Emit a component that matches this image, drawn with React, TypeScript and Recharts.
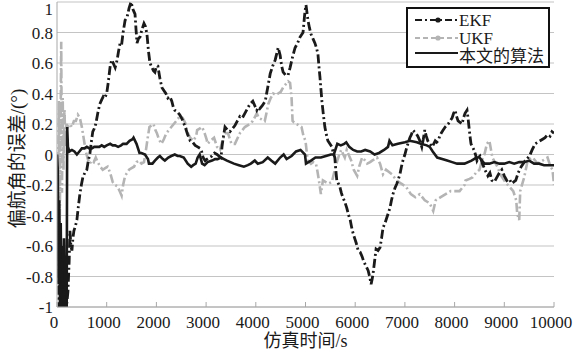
import React from 'react';
import { LineChart, Line, XAxis, YAxis, CartesianGrid, Legend } from 'recharts';

// Yaw-angle error (degrees) versus simulation time (s) for three filters.
const timeTicks = [0, 1000, 2000, 3000, 4000, 5000, 6000, 7000, 8000, 9000, 10000];
const errorTicks = [-1, -0.8, -0.6, -0.4, -0.2, 0, 0.2, 0.4, 0.6, 0.8, 1];

const seriesNames = ['EKF', 'UKF', '本文的算法'];

const ekfSamples: [number, number][] = [
  [0, -0.08], [20, -0.35], [40, -1], [60, -0.6], [80, -1], [100, -0.7], [130, -1], [160, -0.85],
  [190, -1], [220, -0.9], [245, -0.7], [260, -0.5], [280, -0.6], [300, -0.63], [320, -0.55],
  [340, -0.5], [370, -0.47], [400, -0.43], [430, -0.34], [460, -0.26], [490, -0.2], [520, -0.15],
  [560, -0.12], [600, -0.1], [630, -0.04], [660, 0], [690, 0.08], [720, 0.15], [750, 0.17],
  [780, 0.2], [820, 0.27], [860, 0.33], [900, 0.36], [930, 0.38], [960, 0.37], [1000, 0.4],
  [1030, 0.47], [1070, 0.58], [1100, 0.62], [1130, 0.6], [1170, 0.57], [1210, 0.62], [1240, 0.68],
  [1270, 0.73], [1300, 0.72], [1330, 0.8], [1370, 0.88], [1410, 0.9], [1450, 0.96], [1490, 1],
  [1530, 0.95], [1570, 0.92], [1590, 0.82], [1610, 0.73], [1640, 0.76], [1670, 0.77], [1710, 0.82],
  [1750, 0.86], [1780, 0.84], [1810, 0.79], [1840, 0.68], [1870, 0.6], [1910, 0.57], [1940, 0.55],
  [1970, 0.54], [2000, 0.58], [2030, 0.58], [2070, 0.5], [2110, 0.44], [2150, 0.42], [2190, 0.4],
  [2230, 0.37], [2270, 0.38], [2310, 0.35], [2340, 0.31], [2370, 0.29], [2420, 0.28], [2470, 0.26],
  [2520, 0.23], [2580, 0.18], [2630, 0.13], [2680, 0.09], [2730, 0.08], [2780, 0.06], [2830, 0.05],
  [2880, 0.04], [2910, 0.02], [2940, -0.02], [2980, -0.04], [3020, -0.03], [3070, -0.02],
  [3120, -0.01], [3170, 0.01], [3220, 0], [3260, -0.01], [3300, -0.02], [3320, 0.05], [3340, 0.1],
  [3380, 0.18], [3430, 0.16], [3480, 0.15], [3530, 0.17], [3580, 0.19], [3630, 0.22], [3680, 0.25],
  [3730, 0.24], [3780, 0.27], [3830, 0.3], [3880, 0.33], [3910, 0.34], [3940, 0.35], [3980, 0.32],
  [4020, 0.29], [4050, 0.31], [4080, 0.3], [4130, 0.32], [4190, 0.35], [4240, 0.44], [4290, 0.53],
  [4340, 0.58], [4390, 0.62], [4420, 0.66], [4450, 0.7], [4490, 0.65], [4520, 0.58], [4550, 0.54],
  [4600, 0.52], [4650, 0.52], [4690, 0.57], [4740, 0.64], [4790, 0.7], [4840, 0.73], [4890, 0.77],
  [4950, 0.8], [4990, 0.94], [5010, 0.98], [5050, 0.88], [5080, 0.83], [5110, 0.79], [5150, 0.76],
  [5190, 0.73], [5220, 0.7], [5250, 0.66], [5270, 0.58], [5290, 0.51], [5310, 0.43], [5330, 0.35],
  [5360, 0.26], [5390, 0.18], [5420, 0.13], [5450, 0.09], [5490, 0.07], [5530, 0.05], [5560, 0.01],
  [5590, -0.02], [5610, -0.1], [5630, -0.17], [5660, -0.19], [5690, -0.21], [5720, -0.25],
  [5750, -0.28], [5790, -0.31], [5830, -0.35], [5870, -0.4], [5900, -0.43], [5930, -0.48],
  [5960, -0.52], [5990, -0.55], [6020, -0.58], [6060, -0.63], [6100, -0.64], [6140, -0.67],
  [6170, -0.7], [6200, -0.72], [6230, -0.74], [6260, -0.76], [6290, -0.8], [6320, -0.85],
  [6340, -0.82], [6360, -0.78], [6390, -0.7], [6420, -0.62], [6460, -0.63], [6500, -0.61],
  [6530, -0.55], [6560, -0.48], [6600, -0.45], [6640, -0.41], [6670, -0.38], [6700, -0.35],
  [6730, -0.3], [6760, -0.26], [6800, -0.22], [6840, -0.19], [6870, -0.16], [6900, -0.13],
  [6930, -0.08], [6960, -0.04], [7000, 0], [7040, 0.05], [7070, 0.08], [7100, 0.11], [7130, 0.13],
  [7160, 0.16], [7190, 0.15], [7220, 0.14], [7260, 0.12], [7300, 0.09], [7340, 0.05], [7370, 0.1],
  [7400, 0.16], [7430, 0.12], [7460, 0.09], [7500, 0.07], [7550, 0.05], [7580, 0.07], [7610, 0.09],
  [7640, 0.08], [7670, 0.09], [7700, 0.12], [7730, 0.14], [7770, 0.16], [7810, 0.18], [7840, 0.19],
  [7870, 0.2], [7910, 0.22], [7950, 0.24], [7980, 0.27], [8010, 0.29], [8040, 0.25], [8070, 0.22],
  [8110, 0.21], [8150, 0.2], [8180, 0.24], [8210, 0.27], [8250, 0.29], [8270, 0.24], [8290, 0.18],
  [8310, 0.12], [8330, 0.07], [8360, 0.05], [8390, 0.03], [8420, 0], [8450, -0.04], [8480, -0.02],
  [8510, -0.01], [8560, -0.06], [8610, -0.1], [8670, -0.14], [8710, -0.12], [8750, -0.17],
  [8800, -0.18], [8850, -0.15], [8900, -0.12], [8950, -0.1], [9000, -0.14], [9050, -0.17],
  [9100, -0.16], [9150, -0.19], [9190, -0.18], [9230, -0.17], [9280, -0.12], [9310, -0.1],
  [9340, -0.08], [9380, -0.06], [9420, -0.04], [9450, -0.03], [9480, -0.02], [9520, 0],
  [9560, 0.03], [9590, 0.05], [9620, 0.07], [9670, 0.08], [9720, 0.09], [9770, 0.1], [9820, 0.11],
  [9870, 0.13], [9920, 0.12], [9960, 0.15], [10000, 0.14],
];

const ukfSamples: [number, number][] = [
  [0, 0], [20, -0.3], [40, 0.35], [55, -0.45], [70, 0.1], [85, 0.74], [100, -0.25], [115, 0.37],
  [130, -0.1], [150, 0.3], [170, 0.05], [190, 0.2], [220, 0.18], [260, 0.2], [300, 0.18],
  [340, 0.22], [380, 0.22], [420, 0.26], [460, 0.24], [500, 0.18], [540, 0.1], [580, 0.02],
  [620, -0.03], [660, -0.06], [700, -0.04], [740, -0.05], [780, -0.02], [820, -0.05], [870, -0.08],
  [920, -0.1], [970, -0.09], [1020, -0.08], [1070, -0.12], [1120, -0.18], [1170, -0.2],
  [1220, -0.21], [1260, -0.24], [1300, -0.27], [1330, -0.2], [1370, -0.14], [1410, -0.12],
  [1450, -0.1], [1500, -0.09], [1550, -0.08], [1600, -0.05], [1650, -0.04], [1700, -0.06],
  [1750, -0.05], [1790, 0.03], [1830, 0.12], [1860, 0.18], [1900, 0.19], [1940, 0.2], [1980, 0.16],
  [2010, 0.14], [2050, 0.1], [2100, 0.07], [2150, 0.1], [2200, 0.14], [2250, 0.16], [2300, 0.18],
  [2350, 0.2], [2400, 0.22], [2470, 0.25], [2530, 0.24], [2590, 0.2], [2620, 0.15], [2680, 0.11],
  [2740, 0.09], [2800, 0.12], [2820, 0.16], [2870, 0.17], [2920, 0.18], [2970, 0.14], [3010, 0.1],
  [3030, 0.07], [3090, 0.09], [3160, 0.11], [3220, 0.05], [3280, 0.03], [3320, 0.08], [3380, 0.14],
  [3440, 0.14], [3510, 0.07], [3580, 0.07], [3680, 0.14], [3780, 0.18], [3880, 0.2], [3940, 0.22],
  [4020, 0.27], [4060, 0.24], [4120, 0.23], [4180, 0.22], [4220, 0.28], [4250, 0.33], [4300, 0.37],
  [4350, 0.4], [4400, 0.39], [4450, 0.4], [4500, 0.41], [4550, 0.44], [4600, 0.46], [4650, 0.48],
  [4690, 0.47], [4720, 0.37], [4740, 0.22], [4770, 0.21], [4820, 0.2], [4870, 0.19], [4920, 0.18],
  [4960, 0.12], [5000, 0.09], [5030, 0], [5050, -0.04], [5110, -0.06], [5150, -0.05], [5210, -0.06],
  [5240, -0.11], [5270, -0.17], [5310, -0.26], [5350, -0.17], [5400, -0.18], [5470, -0.19],
  [5530, -0.18], [5590, -0.1], [5640, -0.04], [5680, 0], [5720, 0.03], [5760, 0], [5790, -0.02],
  [5830, 0.03], [5880, -0.01], [5920, -0.04], [5970, -0.1], [6040, -0.14], [6080, -0.08],
  [6140, -0.02], [6200, -0.04], [6240, -0.06], [6300, -0.05], [6340, -0.04], [6400, -0.03],
  [6440, -0.02], [6500, -0.06], [6560, -0.13], [6620, -0.1], [6700, -0.12], [6740, -0.13],
  [6810, -0.16], [6840, -0.17], [6920, -0.19], [7020, -0.21], [7120, -0.26], [7210, -0.28],
  [7300, -0.26], [7400, -0.3], [7500, -0.32], [7570, -0.37], [7620, -0.3], [7720, -0.28],
  [7820, -0.26], [7920, -0.24], [8020, -0.24], [8100, -0.24], [8200, -0.2], [8220, -0.17],
  [8300, -0.16], [8360, -0.15], [8430, -0.12], [8500, -0.1], [8560, -0.03], [8600, 0], [8650, 0.07],
  [8700, 0.09], [8760, -0.02], [8860, -0.08], [8920, -0.13], [9020, -0.18], [9100, -0.21],
  [9180, -0.24], [9240, -0.3], [9260, -0.39], [9300, -0.43], [9320, -0.24], [9400, -0.15],
  [9470, -0.04], [9570, -0.02], [9670, -0.06], [9770, -0.04], [9870, -0.02], [9930, -0.08],
  [9970, -0.1], [10000, -0.2],
];

const proposedSamples: [number, number][] = [
  [0, 0], [15, -0.1], [30, -0.85], [45, -0.3], [60, -1], [75, -0.45], [90, -1], [105, -0.6],
  [120, -1], [140, -0.55], [160, -1], [180, -0.7], [195, -1], [205, 0.18], [220, 0.05], [250, 0.02],
  [300, 0.03], [350, 0.02], [400, 0], [450, 0.02], [500, 0.04], [550, 0.04], [600, 0.05],
  [650, 0.04], [700, 0.04], [750, 0.05], [800, 0.05], [850, 0.05], [900, 0.06], [950, 0.05],
  [1000, 0.06], [1070, 0.07], [1120, 0.06], [1170, 0.06], [1230, 0.05], [1290, 0.06], [1330, 0.07],
  [1400, 0.07], [1460, 0.09], [1520, 0.1], [1540, 0.11], [1600, 0.07], [1660, 0.01], [1700, 0.01],
  [1770, 0], [1830, -0.03], [1850, -0.06], [1920, -0.06], [1970, -0.04], [2030, -0.02],
  [2070, -0.01], [2130, -0.03], [2170, -0.04], [2240, -0.02], [2300, -0.01], [2370, 0],
  [2430, -0.01], [2470, -0.01], [2550, -0.02], [2630, -0.06], [2700, -0.08], [2740, -0.07],
  [2790, -0.06], [2830, -0.02], [2870, 0], [2920, -0.06], [2970, -0.07], [3030, -0.05],
  [3120, -0.04], [3180, -0.03], [3230, -0.03], [3300, -0.02], [3360, -0.03], [3420, -0.04],
  [3490, -0.05], [3560, -0.06], [3660, -0.07], [3760, -0.08], [3840, -0.07], [3900, -0.06],
  [3980, -0.04], [4040, -0.06], [4140, -0.05], [4240, -0.02], [4310, -0.04], [4390, -0.06],
  [4490, -0.02], [4560, 0], [4620, -0.03], [4720, -0.01], [4810, 0.02], [4900, 0.03], [4990, 0],
  [5010, -0.06], [5110, -0.04], [5200, -0.02], [5310, -0.02], [5410, -0.01], [5510, 0], [5570, 0],
  [5640, 0.07], [5710, 0.06], [5780, 0.07], [5820, 0.08], [5880, 0.05], [5960, 0.03], [6040, 0.02],
  [6120, 0.02], [6200, 0.03], [6300, 0.02], [6390, 0], [6480, 0.01], [6580, 0.03], [6660, 0.05],
  [6690, 0.09], [6750, 0.06], [6860, 0.07], [7000, 0.08], [7100, 0.09], [7240, 0.08], [7320, 0.07],
  [7440, 0.06], [7500, 0.05], [7560, 0.02], [7650, -0.02], [7750, -0.03], [7850, -0.04],
  [7950, -0.05], [8050, -0.06], [8200, -0.06], [8340, -0.04], [8440, -0.02], [8500, -0.02],
  [8600, -0.06], [8700, -0.06], [8800, -0.05], [8900, -0.06], [9000, -0.06], [9100, -0.05],
  [9200, -0.06], [9300, -0.05], [9400, -0.05], [9500, -0.04], [9600, -0.06], [9700, -0.06],
  [9800, -0.07], [9900, -0.07], [10000, -0.07],
];

const toRows = (samples: [number, number][]) => samples.map(([t, v]) => ({ t, v }));

const FONT = "'Liberation Serif', 'Noto Sans CJK SC', serif";
const INK = '#1a1a1a';
const GRID = '#c4c4c4';
const FRAME = '#a8a8a8';
const UKF_GRAY = '#b4b4b4';
const DASH_DOT = '9 3 2 3';

// Tick labels drawn directly so the serif face is applied.
const TimeTick = ({ x, y, payload }: any) => (
  <text x={x - 3} y={y} dy="0.71em" textAnchor="middle" fontFamily={FONT} fontSize={17} fill={INK}>
    {payload.value}
  </text>
);

// The top label is kept inside the drawing area.
const ErrorTick = ({ x, y, payload }: any) => (
  <text x={x} y={Math.max(y, 9)} dy="0.355em" textAnchor="end" fontFamily={FONT} fontSize={17} fill={INK}>
    {payload.value}
  </text>
);

function LegendBox() {
  return (
    <div
      style={{
        width: 144,
        height: 61,
        border: '2px solid #111',
        background: '#fff',
        boxSizing: 'border-box',
      }}
    >
      <svg width={140} height={57} style={{ display: 'block' }}>
        <line x1={7} x2={50} y1={11} y2={11} stroke={INK} strokeWidth={2} strokeDasharray="7 3 2 3" />
        <circle cx={30} cy={11} r={2.6} fill={INK} />
        <text x={51} y={17} fontFamily={FONT} fontSize={17} fill={INK}>{seriesNames[0]}</text>
        <line x1={7} x2={50} y1={29} y2={29} stroke={UKF_GRAY} strokeWidth={2} strokeDasharray="5 3" />
        <circle cx={30} cy={29} r={2.6} fill={UKF_GRAY} />
        <text x={51} y={35} fontFamily={FONT} fontSize={17} fill={INK}>{seriesNames[1]}</text>
        <line x1={7} x2={50} y1={44} y2={44} stroke={INK} strokeWidth={2} />
        <text x={51} y={53} fontFamily={FONT} fontSize={17} fill={INK}>{seriesNames[2]}</text>
      </svg>
    </div>
  );
}

export default function App() {
  return (
    <div style={{ position: 'absolute', left: 0, top: 0, background: '#fff', fontFamily: FONT }}>
      <LineChart width={574} height={352} margin={{ top: 2, right: 20, bottom: 0, left: 0 }}>
        <CartesianGrid vertical={false} stroke={GRID} strokeWidth={1.2} />
        <XAxis
          dataKey="t"
          type="number"
          domain={[0, 10000]}
          ticks={timeTicks}
          allowDataOverflow
          height={45}
          interval={0}
          tickSize={-5}
          tickMargin={14}
          tick={<TimeTick />}
          tickLine={{ stroke: FRAME }}
          axisLine={{ stroke: FRAME }}
          label={{
            content: ({ viewBox }: any) => (
              <text
                x={viewBox.x + viewBox.width / 2}
                y={viewBox.y + viewBox.height - 5}
                textAnchor="middle"
                fontFamily={FONT}
                fontSize={18}
                fill={INK}
              >
                仿真时间/s
              </text>
            ),
          }}
        />
        <XAxis
          xAxisId="top"
          orientation="top"
          dataKey="t"
          type="number"
          domain={[0, 10000]}
          ticks={timeTicks}
          height={0}
          tick={false}
          tickSize={-5}
          tickLine={{ stroke: FRAME }}
          axisLine={false}
        />
        <YAxis
          type="number"
          domain={[-1, 1]}
          ticks={errorTicks}
          allowDataOverflow
          width={57}
          interval={0}
          tickLine={false}
          tickSize={0}
          tickMargin={4}
          tick={<ErrorTick />}
          axisLine={{ stroke: FRAME }}
          label={{
            content: ({ viewBox }: any) => (
              <text
                transform={`translate(${viewBox.x + 17}, ${viewBox.y + viewBox.height / 2 + 4}) rotate(-90)`}
                textAnchor="middle"
                dominantBaseline="central"
                fontFamily={FONT}
                fontSize={19}
                fill={INK}
              >
                偏航角的误差/(°)
              </text>
            ),
          }}
        />
        <YAxis
          yAxisId="right"
          orientation="right"
          type="number"
          domain={[-1, 1]}
          width={0}
          tick={false}
          tickLine={false}
          axisLine={{ stroke: FRAME }}
        />
        <Legend
          layout="vertical"
          align="center"
          verticalAlign="middle"
          content={() => <LegendBox />}
          wrapperStyle={{ position: 'absolute', left: 406, top: 7, width: 144, height: 61 }}
        />
        <Line
          data={toRows(ukfSamples)}
          dataKey="v"
          name={seriesNames[1]}
          stroke={UKF_GRAY}
          strokeWidth={2.6}
          strokeDasharray={DASH_DOT}
          dot={false}
          isAnimationActive={false}
          type="linear"
        />
        <Line
          data={toRows(proposedSamples)}
          dataKey="v"
          name={seriesNames[2]}
          stroke={INK}
          strokeWidth={2.6}
          dot={false}
          isAnimationActive={false}
          type="linear"
        />
        <Line
          data={toRows(ekfSamples)}
          dataKey="v"
          name={seriesNames[0]}
          stroke={INK}
          strokeWidth={2.8}
          strokeDasharray={DASH_DOT}
          dot={false}
          isAnimationActive={false}
          type="linear"
        />
      </LineChart>
    </div>
  );
}
